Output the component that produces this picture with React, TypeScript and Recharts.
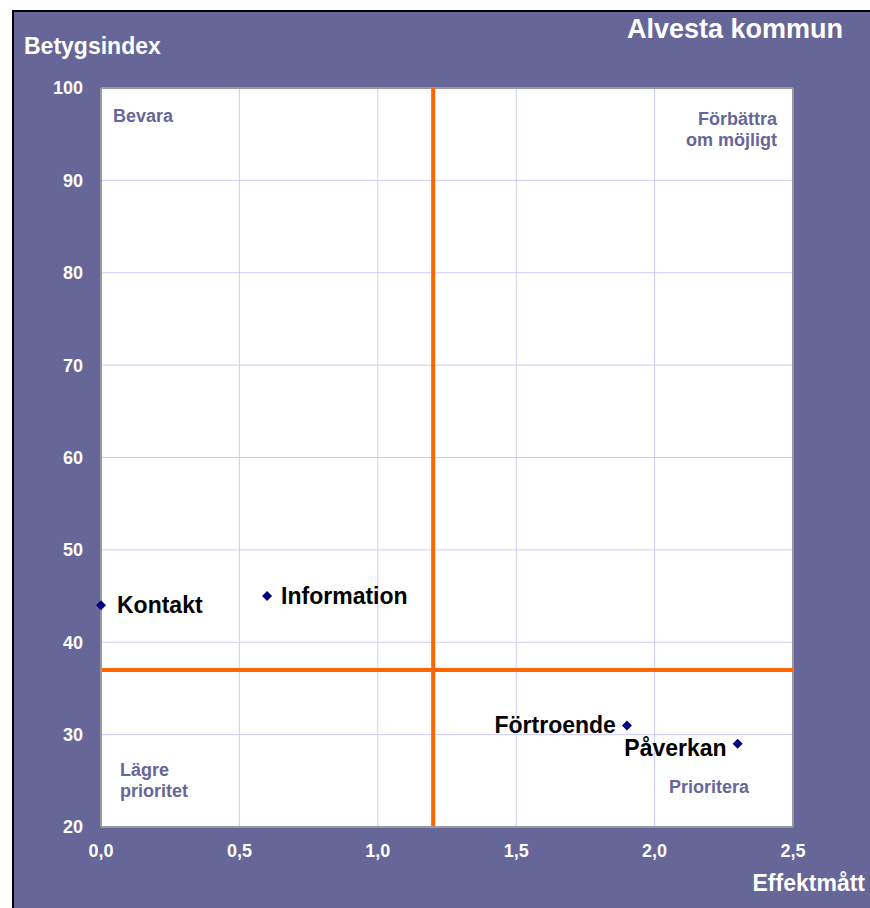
import React from 'react';
import { ScatterChart, Scatter, XAxis, YAxis, ZAxis, CartesianGrid, ReferenceLine, LabelList } from 'recharts';

const names = ['Kontakt', 'Information', 'Förtroende', 'Påverkan'];
const effekt = [0.0, 0.6, 1.9, 2.3];
const betyg = [44, 45, 31, 29];
const xTicks = [0, 0.5, 1, 1.5, 2, 2.5];
const yTicks = [20, 30, 40, 50, 60, 70, 80, 90, 100];
const xSplit = 1.2;
const ySplit = 37;

const data = names.map((name, i) => ({ name, x: effekt[i], y: betyg[i] }));

const font = 'Arial, "Liberation Sans", sans-serif';
const purple = '#666699';

// which side of the marker each name sits on
const labelLeft: Record<string, boolean> = { 'Förtroende': true, 'Påverkan': true };

const PointLabel = (props: any) => {
    const { x, y, width, height, value, index } = props;
    const cx = x + (width || 0) / 2;
    const cy = y + (height || 0) / 2;
    const left = labelLeft[value];
    const dy = index === 3 ? 4 : 0;
    const dx = index === 0 ? 16 : 14;
    return (
        <text
            x={left ? cx - 11 : cx + dx}
            y={cy + dy}
            textAnchor={left ? 'end' : 'start'}
            dominantBaseline="central"
            fontFamily={font}
            fontWeight="bold"
            fontSize={23}
            fill="#000"
        >
            {value}
        </text>
    );
};

const Diamond = (props: any) => {
    const { cx, cy } = props;
    const r = 5;
    return <polygon points={`${cx},${cy - r} ${cx + r},${cy} ${cx},${cy + r} ${cx - r},${cy}`} fill="#000080" />;
};

const quad: React.CSSProperties = {
    position: 'absolute',
    color: purple,
    fontFamily: font,
    fontWeight: 'bold',
    fontSize: 18,
    lineHeight: '21px',
};

const tickStyle = { fill: '#fff', fontFamily: font, fontWeight: 'bold', fontSize: 18 };

const App: React.FC = () => {
    return (
        <div style={{ position: 'fixed', left: 0, top: 0, width: 870, height: 908, background: '#fff', overflow: 'hidden' }}>
            <div style={{ position: 'absolute', left: 12, top: 10, width: 858, height: 898, background: purple, borderLeft: '2px solid #000', borderTop: '2px solid #000', boxSizing: 'border-box' }} />
            <div style={{ position: 'absolute', left: 0, top: 0 }}>
                <ScatterChart width={870} height={908} margin={{ top: 88, right: 77, bottom: 51, left: 41 }}>
                    <CartesianGrid fill="#fff" stroke="#ccccff" strokeWidth={1} />
                    <XAxis
                        type="number"
                        dataKey="x"
                        domain={[0, 2.5]}
                        ticks={xTicks}
                        height={30}
                        tickLine={false}
                        axisLine={{ stroke: '#999', strokeWidth: 2 }}
                        tick={tickStyle}
                        tickFormatter={(v: number) => v.toFixed(1).replace('.', ',')}
                        dy={9}
                    />
                    <YAxis
                        type="number"
                        dataKey="y"
                        domain={[20, 100]}
                        ticks={yTicks}
                        width={60}
                        tickLine={false}
                        axisLine={{ stroke: '#999', strokeWidth: 2 }}
                        tick={tickStyle}
                        dx={-10}
                    />
                    <ZAxis range={[40, 40]} />
                    <ReferenceLine y={100} stroke="#999" strokeWidth={2} />
                    <ReferenceLine x={2.5} stroke="#999" strokeWidth={2} />
                    <ReferenceLine x={xSplit} stroke="#ff6600" strokeWidth={4} />
                    <ReferenceLine y={ySplit} stroke="#ff6600" strokeWidth={4} />
                    <Scatter data={data} fill="#000080" shape={<Diamond />} isAnimationActive={false}>
                        <LabelList dataKey="name" content={<PointLabel />} />
                    </Scatter>
                </ScatterChart>
            </div>
            <div style={{ position: 'absolute', left: 24, top: 33, color: '#fff', fontFamily: font, fontWeight: 'bold', fontSize: 23 }}>Betygsindex</div>
            <div style={{ position: 'absolute', right: 27, top: 14, color: '#fff', fontFamily: font, fontWeight: 'bold', fontSize: 27 }}>Alvesta kommun</div>
            <div style={{ position: 'absolute', right: 5, top: 870, color: '#fff', fontFamily: font, fontWeight: 'bold', fontSize: 23 }}>Effektmått</div>
            <div style={{ ...quad, left: 113, top: 106 }}>Bevara</div>
            <div style={{ ...quad, right: 93, top: 109, textAlign: 'right' }}>Förbättra<br />om möjligt</div>
            <div style={{ ...quad, left: 120, top: 760 }}>Lägre<br />prioritet</div>
            <div style={{ ...quad, left: 669, top: 777 }}>Prioritera</div>
        </div>
    );
};

export default App;
